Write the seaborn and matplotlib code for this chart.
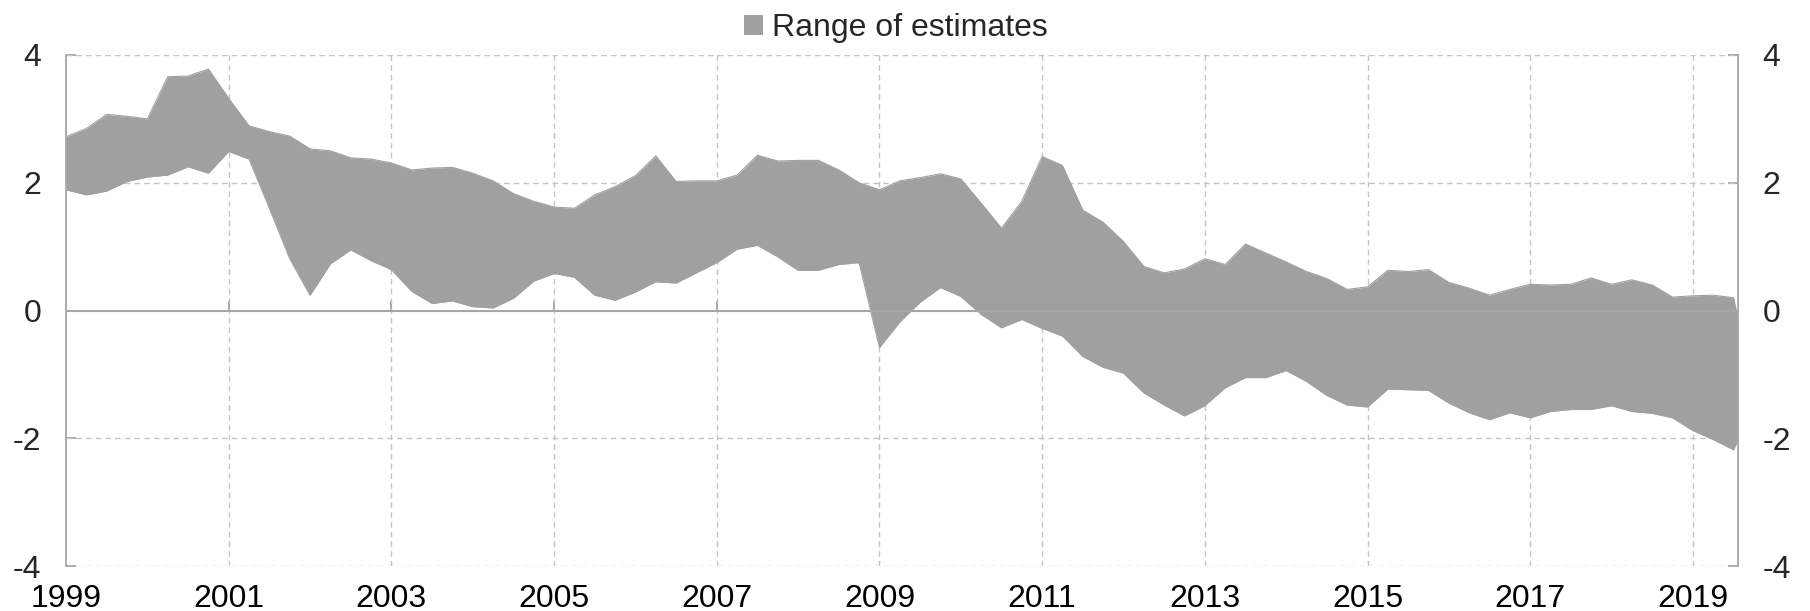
import numpy as np
import pandas as pd
import matplotlib
matplotlib.use('Agg')
import matplotlib.pyplot as plt
from matplotlib.patches import Patch
import seaborn as sns

# quarterly range of estimates, 1999Q1 - 2019Q4
quarters = pd.period_range('1999Q1', '2019Q4', freq='Q')
upper = [2.72, 2.85, 3.07, 3.04, 3.00, 3.66, 3.67, 3.78,
         3.32, 2.89, 2.80, 2.73, 2.53, 2.50, 2.39, 2.37,
         2.31, 2.20, 2.23, 2.24, 2.15, 2.03, 1.83, 1.71,
         1.62, 1.60, 1.81, 1.94, 2.11, 2.42, 2.02, 2.03,
         2.03, 2.12, 2.43, 2.34, 2.35, 2.35, 2.20, 2.00,
         1.89, 2.03, 2.08, 2.14, 2.06, 1.68, 1.29, 1.71,
         2.41, 2.27, 1.57, 1.38, 1.08, 0.69, 0.59, 0.65,
         0.81, 0.72, 1.04, 0.90, 0.76, 0.61, 0.50, 0.33,
         0.37, 0.63, 0.61, 0.64, 0.44, 0.35, 0.24, 0.33,
         0.41, 0.40, 0.41, 0.51, 0.41, 0.48, 0.40, 0.21,
         0.23, 0.24, 0.20, -1.30]
lower = [1.89, 1.81, 1.87, 2.02, 2.09, 2.12, 2.25, 2.15,
         2.49, 2.37, 1.60, 0.81, 0.24, 0.73, 0.95, 0.78,
         0.64, 0.30, 0.11, 0.15, 0.06, 0.04, 0.19, 0.46,
         0.58, 0.52, 0.24, 0.16, 0.29, 0.45, 0.43, 0.59,
         0.75, 0.96, 1.02, 0.84, 0.63, 0.63, 0.72, 0.75,
         -0.58, -0.18, 0.13, 0.36, 0.22, -0.06, -0.27, -0.14,
         -0.28, -0.40, -0.72, -0.89, -0.98, -1.29, -1.48, -1.65,
         -1.49, -1.21, -1.05, -1.05, -0.94, -1.11, -1.33, -1.48,
         -1.51, -1.23, -1.24, -1.25, -1.45, -1.60, -1.71, -1.60,
         -1.68, -1.58, -1.55, -1.55, -1.49, -1.58, -1.61, -1.68,
         -1.88, -2.02, -2.18, -1.50]
year_ticks = list(range(1999, 2020, 2))
y_ticks = [-4, -2, 0, 2, 4]

df = pd.DataFrame({'date': quarters.year + (quarters.quarter - 1) / 4,
                   'upper': upper, 'lower': lower})

sns.set_theme(style='white')
plt.rcParams['font.family'] = ['Liberation Sans', 'DejaVu Sans']

band = '#a0a0a0'
axcol = '#a6a6a6'
fs = 23

fig = plt.figure(figsize=(18.1, 6.11), dpi=100)
ax = fig.add_axes([0.0365, 0.0736, 0.9235, 0.8364])

ax.fill_between(df['date'], df['lower'], df['upper'], color=band, lw=0, zorder=2)
sns.lineplot(data=df, x='date', y='upper', color=band, lw=0.8, ax=ax, zorder=2)
sns.lineplot(data=df, x='date', y='lower', color=band, lw=0.8, ax=ax, zorder=2)

ax.set_xlim(1999, 2019.55)
ax.set_ylim(-4, 4)
ax.set_xlabel('')
ax.set_ylabel('')

for y in [-4, -2, 2, 4]:
    ax.axhline(y, color='#c4c4c4', lw=1, ls=(0, (4, 3)), zorder=1)
for x in year_ticks[1:]:
    ax.axvline(x, color='#c4c4c4', lw=1, ls=(0, (4, 3)), zorder=1)
ax.axhline(0, color=axcol, lw=1.5, zorder=3)

for s in ['top', 'bottom']:
    ax.spines[s].set_visible(False)
for s in ['left', 'right']:
    ax.spines[s].set_color(axcol)
    ax.spines[s].set_linewidth(1.3)

ax.set_xticks(year_ticks)
ax.set_xticklabels([str(y) for y in year_ticks])
ax.tick_params(axis='x', length=0, pad=13, labelsize=fs, colors='black')

ax.set_yticks(y_ticks)
ax.set_yticklabels([str(v) for v in y_ticks])
ax.tick_params(axis='y', direction='in', length=7, width=1.3, color=axcol,
               labelsize=fs, pad=18, left=True, right=True,
               labelleft=True, labelright=True)

# small tick marks hanging from the zero line
sec = ax.secondary_xaxis(0.5)
sec.set_xticks(year_ticks[1:])
sec.tick_params(axis='x', direction='out', length=7, width=1.5, color=axcol,
                labelbottom=False, labeltop=False)
sec.spines['bottom'].set_visible(False)
sec.spines['top'].set_visible(False)

fig.legend(handles=[Patch(facecolor=band, edgecolor='none', label='Range of estimates')],
           loc='upper center', bbox_to_anchor=(0.495, 1.025), frameon=False,
           fontsize=fs, handlelength=0.6, handleheight=0.6, handletextpad=0.3)

fig.savefig('out.png', dpi=100)
